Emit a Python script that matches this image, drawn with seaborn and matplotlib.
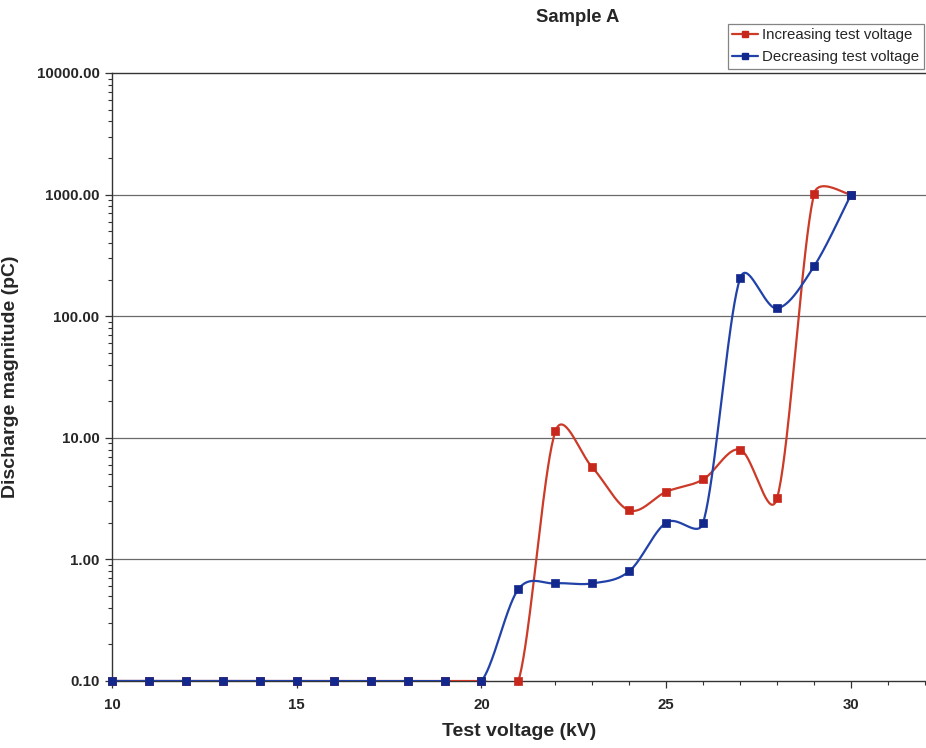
import numpy as np
import pandas as pd
import matplotlib
matplotlib.use("Agg")
import matplotlib.pyplot as plt
from matplotlib.lines import Line2D
from matplotlib.ticker import FixedLocator, NullFormatter, LogLocator
import seaborn as sns

# Measured discharge magnitude (pC) per test voltage step (kV)
voltage_kv = [10, 11, 12, 13, 14, 15, 16, 17, 18, 19, 20, 21, 22, 23, 24, 25, 26, 27, 28, 29, 30]
increasing_pc = [0.1, 0.1, 0.1, 0.1, 0.1, 0.1, 0.1, 0.1, 0.1, 0.1, 0.1, 0.1,
                 11.3, 5.7, 2.53, 3.6, 4.55, 8.0, 3.2, 1010.0, 1000.0]
decreasing_pc = [0.1, 0.1, 0.1, 0.1, 0.1, 0.1, 0.1, 0.1, 0.1, 0.1, 0.1, 0.57,
                 0.635, 0.635, 0.80, 2.01, 2.01, 205.0, 116.0, 257.0, 1000.0]
series_names = ["Increasing test voltage", "Decreasing test voltage"]
y_tick_values = [0.1, 1, 10, 100, 1000, 10000]
y_tick_labels = ["0.10", "1.00", "10.00", "100.00", "1000.00", "10000.00"]
x_tick_values = [10, 15, 20, 25, 30]

RED_LINE, RED_MARK = "#cc3a28", "#c8281c"
BLUE_LINE, BLUE_MARK = "#2142a8", "#13288c"

# screen scale of the plot area (pixels per kV, pixels per decade)
PX_PER_X, PX_PER_DEC = 36.95, 121.6


def smooth_curve(x, y, steps=40):
    """Spreadsheet-style smoothed line: cubic Bezier segments whose control
    arms are 1/6 of the neighbour chord, clamped to half the segment length
    (measured in screen space)."""
    px = np.asarray(x, float) * PX_PER_X
    py = np.log10(np.asarray(y, float)) * PX_PER_DEC
    P = np.column_stack([px, py])
    n = len(P)
    t = np.linspace(0, 1, steps)[:, None]
    out = []
    for i in range(n - 1):
        p0, p1, p2, p3 = P[max(i - 1, 0)], P[i], P[i + 1], P[min(i + 2, n - 1)]
        d12 = np.hypot(*(p2 - p1))
        d02 = np.hypot(*(p2 - p0))
        d13 = np.hypot(*(p3 - p1))
        f = 1 / 6 if d02 / 6 < d12 / 2 else d12 / (2 * d02)
        g = 1 / 6 if d13 / 6 < d12 / 2 else d12 / (2 * d13)
        c1 = p1 + f * (p2 - p0)
        c2 = p2 - g * (p3 - p1)
        b = (1 - t) ** 3 * p1 + 3 * (1 - t) ** 2 * t * c1 + 3 * (1 - t) * t ** 2 * c2 + t ** 3 * p2
        out.append(b if i == 0 else b[1:])
    b = np.vstack(out)
    return b[:, 0] / PX_PER_X, 10 ** (b[:, 1] / PX_PER_DEC)


sns.set_theme(style="white")
plt.rcParams["font.family"] = ["Liberation Sans", "DejaVu Sans"]

fig = plt.figure(figsize=(9.26, 7.48), dpi=100)
ax = fig.add_axes([112 / 926, 1 - 681 / 748, 1 - 112 / 926, (681 - 73) / 748])

ax.set_yscale("log")
ax.set_xlim(10, 32.03)
ax.set_ylim(0.1, 10000)

# Decade grid lines
for v in y_tick_values[1:-1]:
    ax.axhline(v, color="#6a6a6a", lw=0.9, zorder=1)

series = [(increasing_pc, RED_LINE, RED_MARK), (decreasing_pc, BLUE_LINE, BLUE_MARK)]
for k, (vals, lc, mc) in enumerate(series):
    cx, cy = smooth_curve(voltage_kv, vals)
    curve = pd.DataFrame({"x": cx, "y": cy})
    sns.lineplot(data=curve, x="x", y="y", sort=False, estimator=None, ax=ax,
                 color=lc, lw=1.6, zorder=3 + 2 * k)
    pts = pd.DataFrame({"x": voltage_kv, "y": vals})
    sns.scatterplot(data=pts, x="x", y="y", ax=ax, marker="s", s=34, color=mc,
                    edgecolor=mc, linewidth=0.5, zorder=4 + 2 * k, clip_on=False)

ax.set_xlabel("Test voltage (kV)", fontsize=14, fontweight="bold", labelpad=8)
ax.set_ylabel("Discharge magnitude (pC)", fontsize=14, fontweight="bold")
ax.yaxis.set_label_coords((19 - 112) / 814, 0.5)

ax.yaxis.set_major_locator(FixedLocator(y_tick_values))
ax.set_yticklabels(y_tick_labels)
ax.yaxis.set_minor_locator(LogLocator(base=10, subs=np.arange(2, 10)))
ax.yaxis.set_minor_formatter(NullFormatter())
ax.xaxis.set_major_locator(FixedLocator(x_tick_values))
ax.set_xticklabels([str(v) for v in x_tick_values])
ax.xaxis.set_minor_locator(FixedLocator(list(range(10, 33))))

ax.tick_params(axis="both", which="major", direction="out", length=5, width=0.9,
               color="#333333", labelsize=10.8, pad=4)
ax.tick_params(axis="both", which="minor", direction="out", length=3, width=0.8,
               color="#333333")
ax.tick_params(axis="y", which="both", left=True)
ax.tick_params(axis="x", which="both", bottom=True)
ax.tick_params(axis="x", which="major", pad=7)
for lab in ax.get_xticklabels() + ax.get_yticklabels():
    lab.set_fontweight("bold")

for side in ["left", "bottom", "top"]:
    ax.spines[side].set_visible(True)
    ax.spines[side].set_color("#333333")
    ax.spines[side].set_linewidth(1.0)
ax.spines["right"].set_visible(False)

fig.text(578 / 926, 1 - 17 / 748, "Sample A", ha="center", va="center",
         fontsize=13.3, fontweight="bold")

handles = [Line2D([], [], color=RED_LINE, lw=1.6, marker="s", markersize=5,
                  markerfacecolor=RED_MARK, markeredgecolor=RED_MARK),
           Line2D([], [], color=BLUE_LINE, lw=1.6, marker="s", markersize=5,
                  markerfacecolor=BLUE_MARK, markeredgecolor=BLUE_MARK)]
leg = fig.legend(handles, series_names, loc="upper right",
                 bbox_to_anchor=(924 / 926, 1 - 24 / 748), fontsize=10.8,
                 frameon=True, fancybox=False, edgecolor="#666666",
                 handlelength=1.7, handletextpad=0.3, borderpad=0.3,
                 labelspacing=0.5, borderaxespad=0)
leg.get_frame().set_linewidth(0.9)

fig.savefig("out.png", dpi=100)
